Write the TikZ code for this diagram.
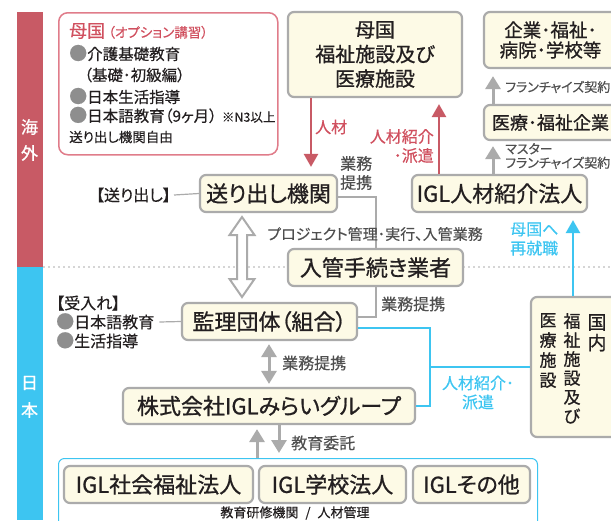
\documentclass[tikz,border=0pt]{standalone}
\usepackage{fontspec}
\setmainfont{Noto Sans CJK JP}[RawFeature=+palt,FakeBold=0.4]
\newfontfamily\boxf{Noto Sans CJK JP}[RawFeature=+palt,FakeBold=0.9]
\newfontfamily\vf{Noto Sans CJK JP}[FakeBold=0.9]
\usetikzlibrary{arrows.meta,calc}
\definecolor{cream}{HTML}{FDFAE6}
\definecolor{bgray}{HTML}{ABABAB}
\definecolor{txt}{HTML}{231F20}
\definecolor{lgray}{HTML}{4F4F4F}
\definecolor{ared}{HTML}{C85A65}
\definecolor{tred}{HTML}{D0505F}
\definecolor{pinkb}{HTML}{E07C8A}
\definecolor{ablue}{HTML}{3DC5F1}
\definecolor{bul}{HTML}{8E8E8E}
\newcommand{\fs}[2]{\fontsize{#1}{#2}\selectfont}
\newcommand{\bul}{\textcolor{bul}{\fontsize{18}{18}\selectfont ●}}
\begin{document}
\begin{tikzpicture}[x=1pt,y=-1pt,
  box/.style={draw=bgray,line width=2.2pt,fill=cream,rounded corners=6pt,inner sep=0pt,text=txt,font=\boxf\fs{22}{24.5},align=center},
  lbl/.style={inner sep=0pt,text=lgray,font=\fs{16}{19}},
  ptxt/.style={inner sep=0pt,anchor=west,text=txt,font=\fs{15.5}{18}},
  bartxt/.style={inner sep=0pt,text=white,font=\vf\fs{17}{20}},
  vtxt/.style={inner sep=0pt,text=txt,anchor=north,align=center},
  gline/.style={draw=bgray,line width=2pt},
  bline/.style={draw=ablue,line width=2.4pt},
  redarrow/.style={draw=ared,line width=2.6pt,-{Triangle[width=14pt,length=13pt]}},
  grayarrow/.style={draw=bgray,line width=3pt,-{Triangle[width=15pt,length=13pt]}},
  bluearrow/.style={draw=ablue,line width=2.6pt,-{Triangle[width=14pt,length=13pt]}}]
\useasboundingbox (0,0) rectangle (611,520);
% side bars
\fill[ared] (17,12) rectangle (42.5,267);
\fill[ablue] (17,267) rectangle (42.5,520);
\node[bartxt] (b1) at (29.5,127) {海};
\node[bartxt] (b2) at (29.5,153) {外};
\node[bartxt] (b3) at (29.5,383) {日};
\node[bartxt] (b4) at (29.5,410) {本};
% dotted border
\draw[bgray,line width=1.6pt,line cap=round,dash pattern=on 0pt off 5pt] (44,267) -- (611,267);
% pink box
\node[draw=pinkb,line width=1.5pt,rounded corners=9pt,minimum width=219pt,minimum height=142pt,anchor=north west,inner sep=0pt] (pink) at (58,12) {};
\node[ptxt] (p1) at (69,31) {\textcolor{tred}{\fs{18}{20}母国}\hspace{3pt}\textcolor{tred}{\fs{13.5}{14}（オプション講習）}};
\node[ptxt] (p2) at (69,53) {\bul 介護基礎教育};
\node[ptxt] (p3) at (84,75) {（基礎･初級編）};
\node[ptxt] (p4) at (69,96) {\bul 日本生活指導};
\node[ptxt] (p5) at (69,115) {\bul 日本語教育（9ヶ月）\hspace{5pt}{\fs{12.5}{14}※N3以上}};
\node[ptxt,font=\fs{13.5}{14}] (p6) at (69,137) {送り出し機関自由};
% boxes
\node[box,minimum width=174pt,minimum height=85pt,font=\boxf\fs{20}{24.5}] (hbox) at (375,54.5) {母国\\福祉施設及び\\医療施設};
\node[box,minimum width=133pt,minimum height=56pt,font=\boxf\fs{18.5}{20}] (kigyo) at (550.5,40) {企業･福祉･\\病院･学校等};
\node[box,minimum width=133pt,minimum height=35pt,font=\boxf\fs{18}{20}] (iryo) at (550.5,122.5) {医療･福祉企業};
\node[box,minimum width=137pt,minimum height=37pt] (okuri) at (268.5,193.5) {送り出し機関};
\node[box,minimum width=175pt,minimum height=37pt] (igl) at (499.5,193.5) {IGL人材紹介法人};
\node[box,minimum width=175pt,minimum height=37pt] (nyukan) at (375.5,267.5) {入管手続き業者};
\node[box,minimum width=175pt,minimum height=37pt] (kanri) at (269.5,321.5) {監理団体（組合）};
\node[box,minimum width=292pt,minimum height=36pt] (kabu) at (269,406) {株式会社IGLみらいグループ};
\node[box,minimum width=90pt,minimum height=140pt] (kokunai) at (576,367) {};
\node[vtxt,font=\vf\fs{19}{20.5}] (v1) at (597,314) {国\\内};
\node[vtxt,font=\vf\fs{17}{19}] (v2) at (572,313) {福\\祉\\施\\設\\及\\び};
\node[vtxt,font=\vf\fs{17}{20}] (v3) at (548,313) {医\\療\\施\\設};
\node[draw=ablue,line width=1pt,rounded corners=6pt,minimum width=479pt,minimum height=80pt,anchor=north west,inner sep=0pt] (edu) at (58,458) {};
\node[box,minimum width=189pt,minimum height=37pt] (igl1) at (158.5,484.5) {IGL社会福祉法人};
\node[box,minimum width=147pt,minimum height=37pt] (igl2) at (332.5,484.5) {IGL学校法人};
\node[box,minimum width=117pt,minimum height=37pt] (igl3) at (471.5,484.5) {IGLその他};
% helper coordinates
\coordinate (gx) at (376,0);
\coordinate (bx) at (430,0);
\coordinate (ax) at (573,0);
\coordinate (rx1) at (311,0);
\coordinate (rx2) at (439,0);
\coordinate (gy) at (493,0);
\coordinate (dx1) at (269,0);
\coordinate (ux) at (257,0);
\coordinate (dx) at (279,0);
% connectors
\draw[gline] ($(okuri.east)+(0,3.5)$) -| (nyukan.north -| gx);
\draw[gline] (nyukan.south -| gx) |- ($(kanri.east)+(0,-4.5)$);
\draw[bline] ($(kanri.east)+(0,6.5)$) -| (kabu.east -| bx) -- (kabu.east);
\draw[bline] (kokunai.west -| bx) -- (kokunai.west);
\draw[bluearrow,shorten >=7pt] (kokunai.north -| ax) -- (igl.south -| ax);
\draw[redarrow,shorten >=7pt] (hbox.south -| rx1) -- (okuri.north -| rx1);
\draw[redarrow,shorten >=6pt] (igl.north -| rx2) -- (hbox.south -| rx2);
\draw[grayarrow,shorten >=7pt] (iryo.north -| gy) -- (kigyo.south -| gy);
\draw[grayarrow,shorten >=5pt] (igl.north -| gy) -- (iryo.south -| gy);
\draw[draw=bgray,line width=3pt,{Triangle[width=15pt,length=13pt]}-{Triangle[width=15pt,length=13pt]},shorten <=3pt,shorten >=3pt] (kanri.south -| dx1) -- (kabu.north -| dx1);
\draw[grayarrow,shorten >=4pt] (edu.north -| ux) -- (kabu.south -| ux);
\draw[grayarrow,shorten >=5pt] (kabu.south -| dx) -- (edu.north -| dx);
% hollow double arrow
\draw[bgray,line width=2pt,fill=white,line join=miter]
  (242,217) -- (254.5,235) -- (247,235) -- (247,279) -- (254.5,279) -- (242,297)
  -- (229.5,279) -- (237,279) -- (237,235) -- (229.5,235) -- cycle;
% labels
\node[lbl,anchor=west,align=left] (l1) at (340,173) {業務\\提携};
\node[lbl,anchor=west] (l2) at (381,304) {業務提携};
\node[lbl,anchor=west] (l3) at (282,363) {業務提携};
\node[lbl,anchor=west] (l4) at (291,443) {教育委託};
\node[lbl,font=\fs{15}{16}] (l5) at (375,234) {プロジェクト管理･実行、入管業務};
\node[lbl,text=tred,anchor=west] (l6) at (315,127) {人材};
\node[lbl,text=tred,anchor=east,align=right] (l7) at (434,146) {人材紹介\\･派遣};
\node[lbl,text=ablue,anchor=west,align=left] (l8) at (510,239) {母国へ\\再就職};
\node[lbl,text=ablue,align=center] (l9) at (478,392.5) {人材紹介･\\派遣};
\node[lbl,font=\fs{13}{14},anchor=west] (l10) at (505,87) {フランチャイズ契約};
\node[lbl,font=\fs{13}{14},anchor=west,align=left] (l11) at (505,156) {マスター\\フランチャイズ契約};
\node[lbl,text=txt,anchor=east] (l12) at (171,195) {【送り出し】};
\draw[bgray,line width=1.2pt] ($(l12.east)+(3,0)$) -- (okuri.west);
\node[lbl,text=txt,anchor=west,align=left] (l13) at (56,322) {【受入れ】\\\bul 日本語教育\\\bul 生活指導};
\draw[bgray,line width=1.2pt] ($(l13.east)+(5,0)$) -- (kanri.west);
\node[lbl,font=\fs{13}{14},text=txt] (l14) at (295,513) {教育研修機関\hspace{7pt}/\hspace{7pt}人材管理};
\end{tikzpicture}
\end{document}
